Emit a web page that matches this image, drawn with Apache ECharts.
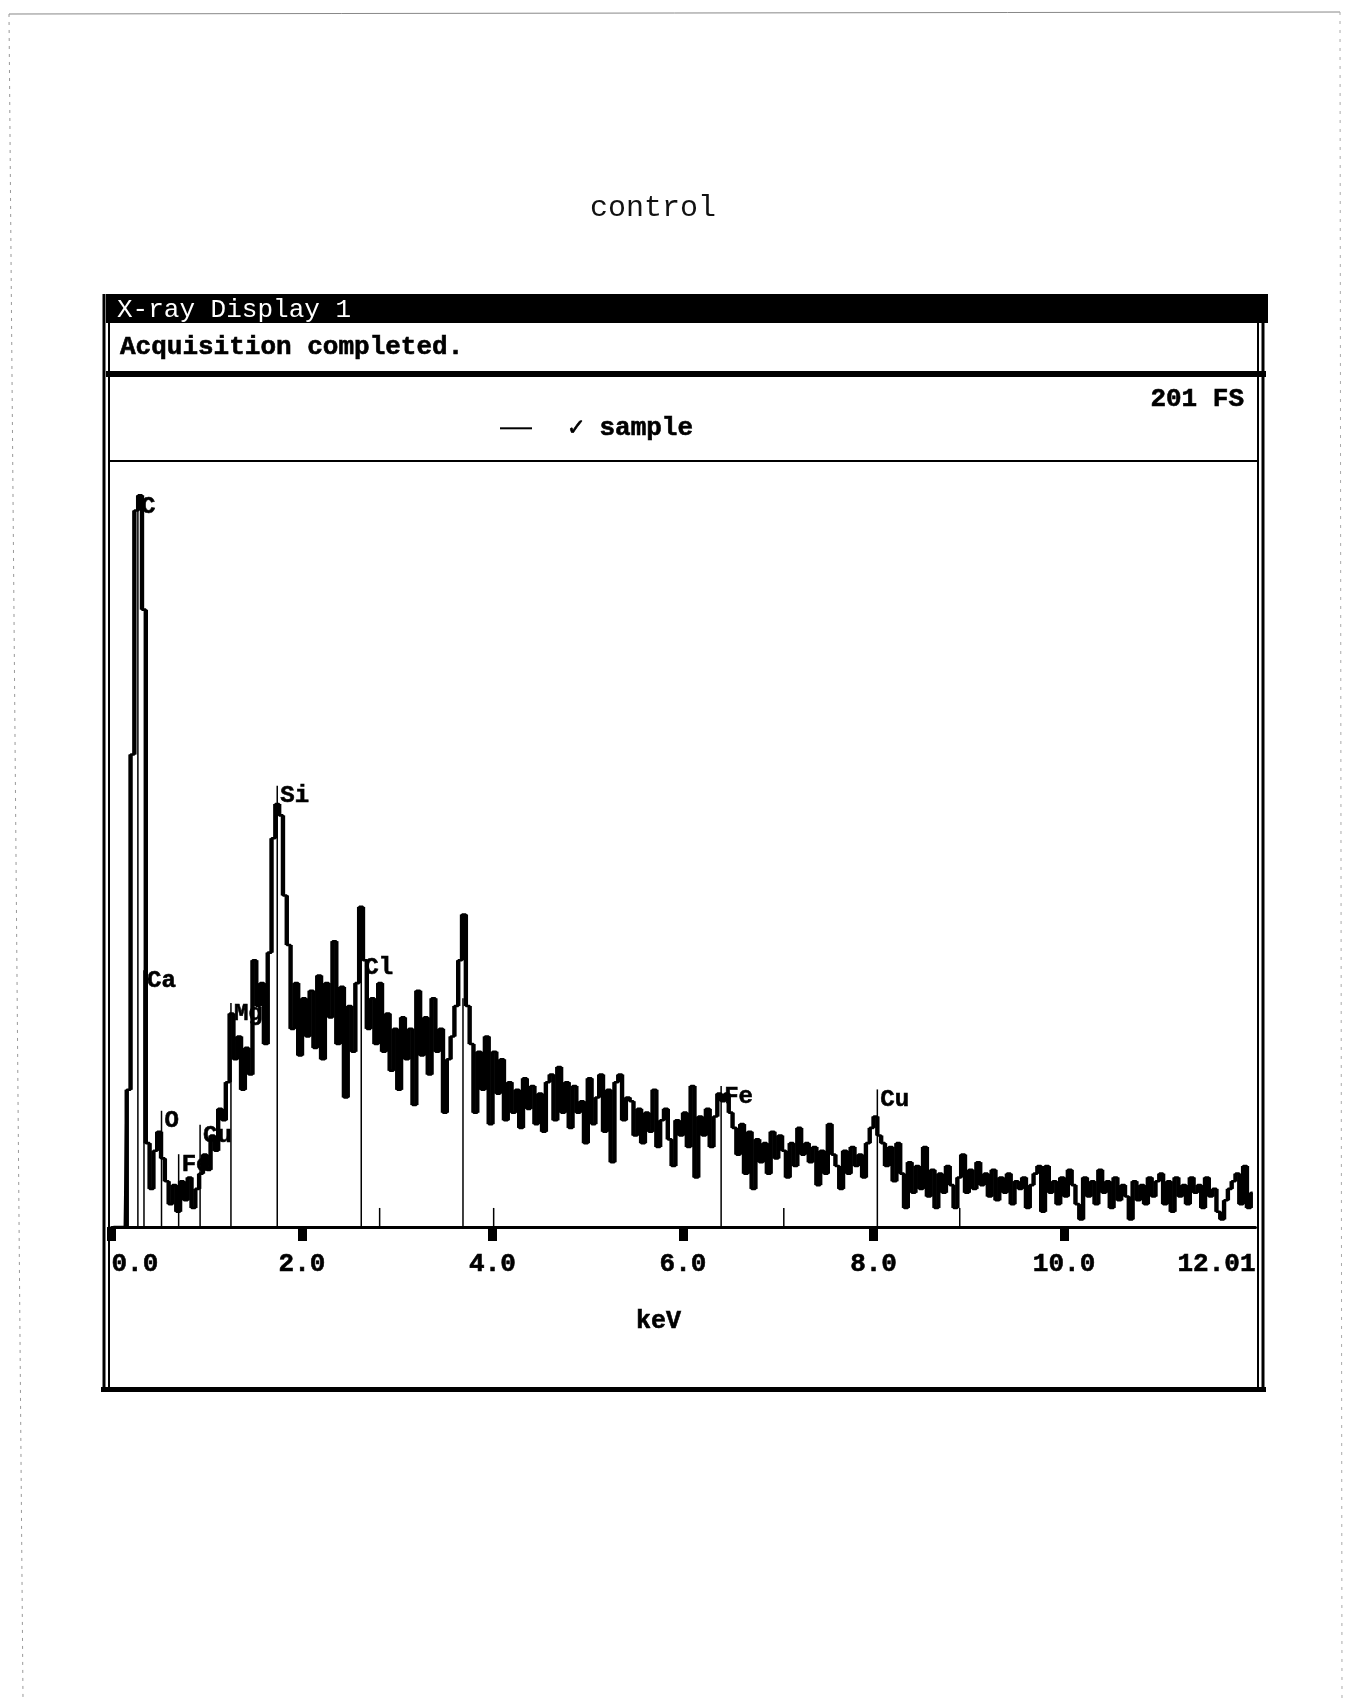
<!DOCTYPE html>
<html>
<head>
<meta charset="utf-8">
<title>control</title>
<script src="https://cdn.jsdelivr.net/npm/echarts@6/dist/echarts.min.js"></script>
<style>
  html, body { margin: 0; padding: 0; background: #fff; }
  #spectrum { width: 1346px; height: 1699px; }
</style>
</head>
<body>
<div id="spectrum"></div>
<script>
// EDS spectrum, counts per 0.04 keV channel, 2 keV per array
const channelWidth = 0.04;
const counts0to2 = [
  0, 0, 0, 0, 36, 124, 188, 192, 162, 22,
  10, 20, 25, 18, 12, 6, 11, 4, 12, 7,
  13, 5, 10, 14, 19, 15, 24, 20, 31, 28,
  38, 56, 44, 50, 36, 47, 40, 70, 58, 64,
  48, 72, 102, 111, 108, 87, 74, 52, 64, 45
];
const counts2to4 = [
  60, 50, 62, 47, 66, 44, 64, 55, 75, 48,
  63, 34, 58, 46, 64, 84, 70, 52, 60, 48,
  64, 46, 56, 41, 52, 36, 55, 44, 52, 32,
  62, 45, 55, 40, 60, 46, 52, 30, 44, 50,
  58, 70, 82, 58, 48, 30, 46, 36, 50, 27
];
const counts4to6 = [
  46, 35, 44, 28, 38, 30, 36, 26, 39, 31,
  37, 27, 35, 25, 38, 40, 28, 42, 30, 38,
  26, 37, 30, 33, 22, 39, 27, 34, 40, 25,
  36, 17, 38, 40, 28, 34, 33, 24, 31, 22,
  30, 25, 36, 21, 28, 31, 23, 16, 28, 24
];
const counts6to8 = [
  30, 21, 37, 13, 29, 24, 31, 21, 29, 35,
  33, 35, 30, 26, 19, 27, 14, 25, 10, 23,
  17, 22, 14, 25, 18, 24, 20, 13, 22, 16,
  26, 19, 22, 17, 21, 11, 20, 14, 27, 19,
  16, 10, 20, 14, 21, 16, 19, 13, 22, 26
];
const counts8to10 = [
  29, 24, 22, 16, 21, 12, 22, 14, 5, 17,
  9, 16, 10, 21, 8, 15, 5, 14, 9, 16,
  11, 5, 13, 19, 9, 15, 10, 17, 11, 14,
  8, 15, 7, 13, 9, 14, 6, 12, 10, 13,
  5, 11, 14, 16, 4, 16, 9, 12, 6, 13
];
const counts10to12 = [
  8, 15, 11, 6, 2, 13, 8, 12, 6, 15,
  9, 12, 5, 13, 7, 11, 8, 2, 12, 7,
  11, 6, 13, 8, 12, 14, 6, 12, 4, 13,
  8, 11, 6, 13, 9, 11, 5, 13, 8, 10,
  4, 2, 7, 10, 12, 14, 6, 16, 5, 9
];

// element markers (keV) with the height (counts) where the tag sits
const markerNames = ['C', 'Ca', 'O', 'Fe', 'Cu', 'Mg', 'Si', 'Cl', 'Fe', 'Cu'];
const markerEnergies = [0.277, 0.341, 0.525, 0.705, 0.930, 1.254, 1.740, 2.622, 6.400, 8.040];
const markerLabelCounts = [189, 64.6, 27.7, 16.3, 24, 56, 113, 68, 34.2, 33.3];
// unlabelled marker lines
const extraLineEnergies = [2.815, 3.690, 4.012, 7.058, 8.905];
const extraLineCounts = [5, 60, 5, 5, 5];

const tickValues = [0, 2, 4, 6, 8, 10];
const labelValues = [0, 2, 4, 6, 8, 10, 12.01];
const fullScale = 201;

const counts = [].concat(counts0to2, counts2to4, counts4to6, counts6to8, counts8to10, counts10to12);
const spectrum = counts.map((c, i) => [+((i + 0.5) * channelWidth).toFixed(2), c]);
// the printout fills the jump between neighbouring channels solid black
const jumps = [];
for (let i = 0; i < counts.length - 1; i++) {
  jumps.push([+((i + 1) * channelWidth).toFixed(2),
    Math.min(counts[i], counts[i + 1]), Math.max(counts[i], counts[i + 1])]);
}

// [energy, line top, tag height, tag]
const markerData = markerEnergies.map((e, i) => [e, markerLabelCounts[i] + 2.8, markerLabelCounts[i], markerNames[i]])
  .concat(extraLineEnergies.map((e, i) => [e, extraLineCounts[i], extraLineCounts[i], '']));

const mono = "'Liberation Mono', 'DejaVu Sans Mono', monospace";
const boldText = { fontFamily: mono, fontWeight: 'bold', fontSize: 26, color: '#000',
  textBorderColor: '#000', textBorderWidth: 0.6 };

const chart = echarts.init(document.getElementById('spectrum'), null, { renderer: 'canvas' });
chart.setOption({
  animation: false,
  backgroundColor: '#fff',
  grid: { left: 111.5, top: 461, width: 1144, height: 766 },
  legend: {
    data: ['sample'],
    left: 500, top: 415, padding: 0,
    itemWidth: 32, itemHeight: 2,
    icon: 'rect',
    formatter: '  \u2713 sample',
    textStyle: boldText,
    itemStyle: { color: '#000' },
    selectedMode: false
  },
  xAxis: {
    type: 'value', min: 0, max: 12.01,
    name: 'keV', nameLocation: 'middle', nameGap: 82,
    nameTextStyle: Object.assign({}, boldText, { fontSize: 25, padding: [0, 50, 0, 0] }),
    axisLine: { show: true, lineStyle: { color: '#000', width: 3 } },
    axisTick: { show: true, customValues: tickValues, length: 14, lineStyle: { color: '#000', width: 9 } },
    axisLabel: Object.assign({}, boldText, {
      customValues: labelValues, margin: 24,
      alignMinLabel: 'left', alignMaxLabel: 'right',
      formatter: v => (v === 12.01 ? '12.01' : v.toFixed(1))
    }),
    splitLine: { show: false }
  },
  yAxis: { type: 'value', min: 0, max: fullScale, show: false },
  series: [
    {
      name: 'sample', type: 'line', step: 'middle',
      data: spectrum, showSymbol: false, symbol: 'none', sampling: null,
      lineStyle: { color: '#000', width: 2.6 },
      itemStyle: { color: '#000' }
    },
    {
      name: 'jumps', type: 'custom', data: jumps, silent: true,
      renderItem: (params, api) => {
        const top = api.coord([api.value(0), api.value(2)]);
        const bottom = api.coord([api.value(0), api.value(1)]);
        const w = api.size([channelWidth, 0])[0] + 0.6;
        return {
          type: 'rect',
          shape: { x: top[0] - w / 2, y: top[1], width: w, height: bottom[1] - top[1] },
          style: { fill: '#000' }
        };
      }
    },
    {
      name: 'markers', type: 'custom', data: markerData, silent: true, z: 5,
      dimensions: ['energy', 'lineTop', 'tagAt', 'tag'],
      renderItem: (params, api) => {
        const d = markerData[params.dataIndex];
        const base = api.coord([d[0], 0]);
        const top = api.coord([d[0], d[1]]);
        const tag = api.coord([d[0], d[2]]);
        return {
          type: 'group',
          children: [
            { type: 'line', shape: { x1: base[0], y1: base[1], x2: top[0], y2: top[1] },
              style: { stroke: '#000', lineWidth: 1.5 } },
            { type: 'text', style: { text: d[3], x: tag[0] + 3, y: tag[1],
              font: "bold 24px 'Liberation Mono'", fill: '#000', stroke: '#000', lineWidth: 0.6,
              verticalAlign: 'middle' } }
          ]
        };
      }
    }
  ],
  graphic: [
    // scan edges
    { type: 'line', shape: { x1: 9, y1: 14, x2: 1340, y2: 12 }, style: { stroke: '#888', lineWidth: 1 } },
    { type: 'line', shape: { x1: 9, y1: 14, x2: 23, y2: 1699 }, style: { stroke: '#999', lineWidth: 1, lineDash: [3, 5] } },
    { type: 'line', shape: { x1: 1340, y1: 12, x2: 1342, y2: 1699 }, style: { stroke: '#aaa', lineWidth: 1, lineDash: [3, 6] } },
    // heading
    { type: 'text', x: 653, y: 208, style: { text: 'control', font: "30px 'Liberation Mono'", fill: '#111', align: 'center', verticalAlign: 'middle' } },
    // window frame
    { type: 'rect', shape: { x: 106, y: 294, width: 1162, height: 29 }, style: { fill: '#000' } },
    { type: 'text', x: 117, y: 310, style: { text: 'X-ray Display 1', font: "26px 'Liberation Mono'", fill: '#fff', verticalAlign: 'middle' } },
    { type: 'text', x: 120, y: 347, style: { text: 'Acquisition completed.', font: "bold 26px 'Liberation Mono'", fill: '#000', stroke: '#000', lineWidth: 0.6, verticalAlign: 'middle' } },
    { type: 'rect', shape: { x: 106, y: 371, width: 1160, height: 6 }, style: { fill: '#000' } },
    { type: 'text', x: 1244, y: 399, style: { text: '201 FS', font: "bold 26px 'Liberation Mono'", fill: '#000', stroke: '#000', lineWidth: 0.6, align: 'right', verticalAlign: 'middle' } },
    { type: 'line', shape: { x1: 110, y1: 461, x2: 1258, y2: 461 }, style: { stroke: '#000', lineWidth: 2 } },
    { type: 'line', shape: { x1: 104, y1: 294, x2: 104, y2: 1392 }, style: { stroke: '#000', lineWidth: 3 } },
    { type: 'line', shape: { x1: 109, y1: 323, x2: 109, y2: 1390 }, style: { stroke: '#000', lineWidth: 2 } },
    { type: 'line', shape: { x1: 1263, y1: 294, x2: 1263, y2: 1392 }, style: { stroke: '#000', lineWidth: 3 } },
    { type: 'line', shape: { x1: 1258, y1: 323, x2: 1258, y2: 1390 }, style: { stroke: '#000', lineWidth: 2 } },
    { type: 'rect', shape: { x: 101, y: 1387, width: 1165, height: 5 }, style: { fill: '#000' } }
  ]
});
</script>
</body>
</html>
